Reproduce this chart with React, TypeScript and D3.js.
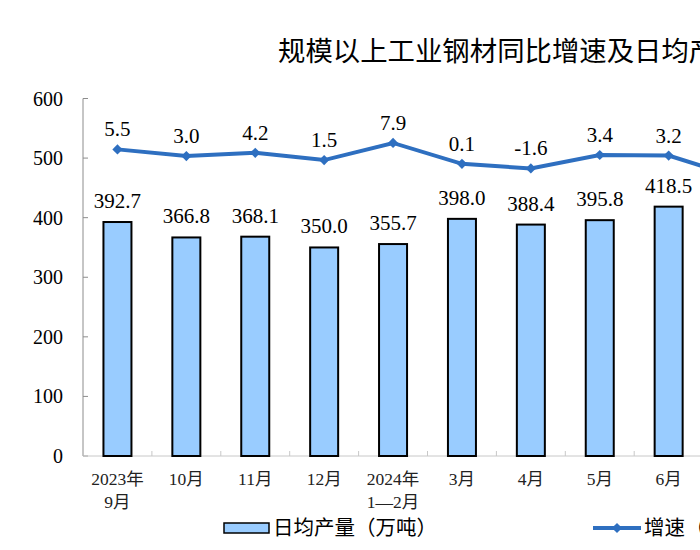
import * as d3 from "d3";

// 日均产量（万吨） and 增速（%） by month
const categories = ["2023年|9月", "10月", "11月", "12月", "2024年|1—2月", "3月", "4月", "5月", "6月", "7月"];
const output = [392.7, 366.8, 368.1, 350.0, 355.7, 398.0, 388.4, 395.8, 418.5, 375.5];
const growth = [5.5, 3.0, 4.2, 1.5, 7.9, 0.1, -1.6, 3.4, 3.2, -4.8];
const yTicks = [0, 100, 200, 300, 400, 500, 600];

const title = "规模以上工业钢材同比增速及日均产量";
const legendBar = "日均产量（万吨）";
const legendLine = "增速（%）";

const width = 700;
const height = 550;
const plot = { left: 83, top: 98.5, bottom: 456 };
const step = 68.9;

const serif = "'Times New Roman', 'Liberation Serif', 'Noto Sans CJK SC', serif";
const cjk = "'Noto Sans CJK SC', sans-serif";

export default function App() {
  const x = d3
    .scaleBand<string>()
    .domain(categories)
    .range([plot.left, plot.left + step * categories.length]);
  const y = d3.scaleLinear().domain([0, 600]).range([plot.bottom, plot.top]);
  const y2 = d3.scaleLinear().domain([-109, 24.5]).range([plot.bottom, plot.top]);

  const barW = 28;
  const cx = (c: string) => (x(c) ?? 0) + x.bandwidth() / 2;

  const line = d3
    .line<number>()
    .x((_, i) => cx(categories[i]))
    .y((d) => y2(d));

  const diamond = d3.symbol(d3.symbolSquare, 52)() ?? "";
  const lineColor = "#2e6fc0";

  return (
    <div style={{ position: "absolute", left: 0, top: 0, width, height, overflow: "hidden", background: "#fff" }}>
      <svg width={width} height={height} style={{ display: "block" }}>
        <rect width={width} height={height} fill="#fff" />
        <text x={278} y={61} fontFamily={cjk} fontSize={27.4} fill="#000">
          {title}
        </text>

        {/* y axis */}
        <line x1={plot.left} x2={plot.left} y1={plot.top} y2={plot.bottom} stroke="#8c8c8c" />
        {yTicks.map((t) => (
          <g key={t}>
            <line x1={plot.left} x2={plot.left + 5} y1={y(t)} y2={y(t)} stroke="#8c8c8c" />
            <text x={63} y={y(t) + 7} textAnchor="end" fontFamily={serif} fontSize={20} fill="#000">
              {t}
            </text>
          </g>
        ))}

        {/* x axis */}
        <line x1={plot.left} x2={plot.left + step * categories.length} y1={plot.bottom} y2={plot.bottom} stroke="#c8c8c8" />
        {categories.map((c, i) => (
          <line
            key={"t" + i}
            x1={(x(c) ?? 0) + x.bandwidth()}
            x2={(x(c) ?? 0) + x.bandwidth()}
            y1={plot.bottom}
            y2={plot.bottom - 5}
            stroke="#c8c8c8"
          />
        ))}
        {categories.map((c, i) => (
          <text key={"c" + i} textAnchor="middle" fontFamily={serif} fontSize={17.5} fill="#222">
            {c.split("|").map((part, j) => (
              <tspan key={j} x={cx(c)} y={485 + j * 23}>
                {part}
              </tspan>
            ))}
          </text>
        ))}

        {/* bars */}
        {output.map((v, i) => (
          <g key={"b" + i}>
            <rect
              x={cx(categories[i]) - barW / 2}
              y={y(v)}
              width={barW}
              height={plot.bottom - y(v)}
              fill="#99ccff"
              stroke="#000"
              strokeWidth={2}
            />
            <text x={cx(categories[i])} y={y(v) - 14} textAnchor="middle" fontFamily={serif} fontSize={21} fill="#000">
              {v.toFixed(1)}
            </text>
          </g>
        ))}

        {/* growth line */}
        <path d={line(growth) ?? ""} fill="none" stroke={lineColor} strokeWidth={4} />
        {growth.map((v, i) => (
          <g key={"g" + i}>
            <path d={diamond} transform={`translate(${cx(categories[i])},${y2(v)}) rotate(45)`} fill={lineColor} />
            <text x={cx(categories[i])} y={y2(v) - 13} textAnchor="middle" fontFamily={serif} fontSize={21} fill="#000">
              {v.toFixed(1)}
            </text>
          </g>
        ))}

        {/* legend */}
        <rect x={224} y={523} width={45} height={10} fill="#99ccff" stroke="#000" strokeWidth={1.5} />
        <text x={273} y={535} fontFamily={cjk} fontSize={20.5} fill="#000">
          {legendBar}
        </text>
        <line x1={593} x2={641} y1={528} y2={528} stroke={lineColor} strokeWidth={4} />
        <path d={diamond} transform="translate(617,528) rotate(45)" fill={lineColor} />
        <text x={644} y={535} fontFamily={cjk} fontSize={20.5} fill="#000">
          {legendLine}
        </text>
      </svg>
    </div>
  );
}
